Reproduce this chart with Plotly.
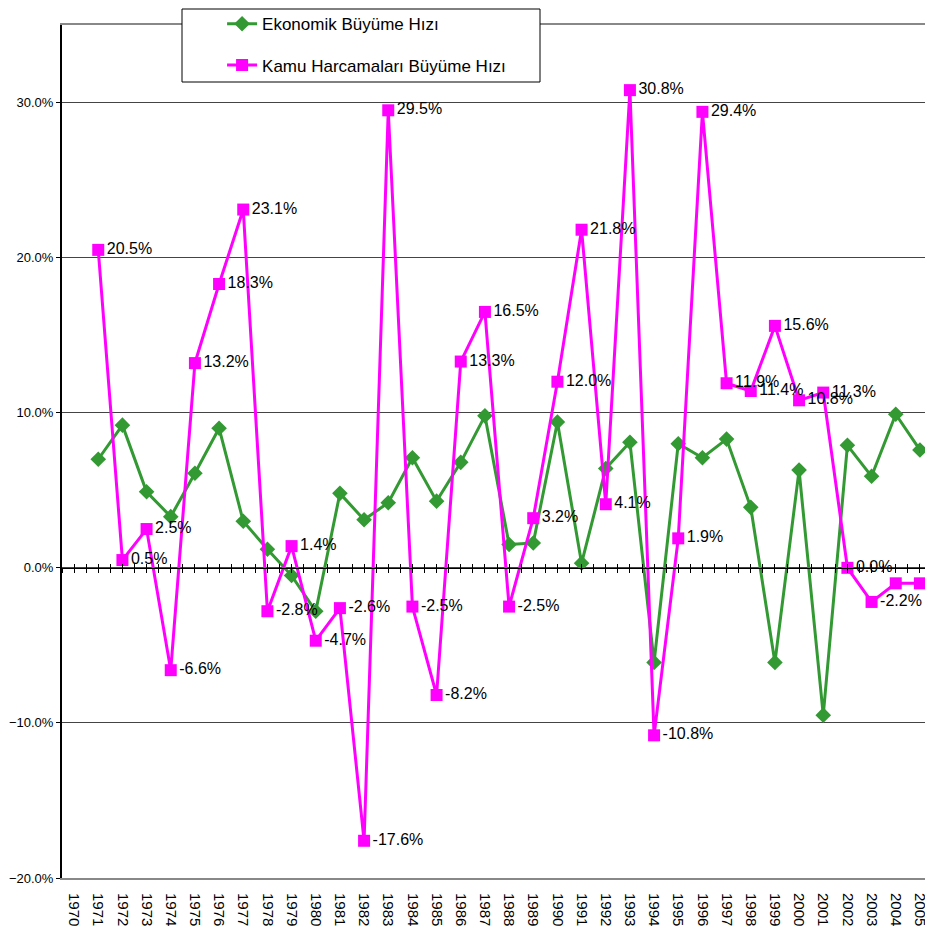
import plotly.graph_objects as go

years = [str(y) for y in range(1970, 2006)]
data_years = [str(y) for y in range(1971, 2006)]

ekonomik = [7.0, 9.2, 4.9, 3.3, 6.1, 9.0, 3.0, 1.2, -0.5, -2.8,
            4.8, 3.1, 4.2, 7.1, 4.3, 6.8, 9.8, 1.5, 1.6, 9.4,
            0.3, 6.4, 8.1, -6.1, 8.0, 7.1, 8.3, 3.9, -6.1, 6.3,
            -9.5, 7.9, 5.9, 9.9, 7.6]

kamu = [20.5, 0.5, 2.5, -6.6, 13.2, 18.3, 23.1, -2.8, 1.4, -4.7,
        -2.6, -17.6, 29.5, -2.5, -8.2, 13.3, 16.5, -2.5, 3.2, 12.0,
        21.8, 4.1, 30.8, -10.8, 1.9, 29.4, 11.9, 11.4, 15.6, 10.8,
        11.3, 0.0, -2.2, -1.0, -1.0]

series_names = ["Ekonomik Büyüme Hızı", "Kamu Harcamaları Büyüme Hızı"]

FONT = "Liberation Sans, Arial, sans-serif"

GREEN = "#339933"
MAGENTA = "#FF00FF"

kamu_frac = [v / 100 for v in kamu]
eko_frac = [v / 100 for v in ekonomik]
kamu_text = [f"{v:.1f}%" for v in kamu]
# the last two labels are pushed inside the plot edge (as in the reference)
n_edge = 2
trace_text = kamu_text[:-n_edge] + [""] * n_edge

fig = go.Figure()

fig.add_trace(go.Scatter(
    x=data_years, y=eko_frac, name=series_names[0], mode="lines+markers",
    line=dict(color=GREEN, width=3),
    marker=dict(symbol="diamond", size=12, color=GREEN),
    legendgroup="a",
))

fig.add_trace(go.Scatter(
    x=data_years, y=kamu_frac, name=series_names[1], mode="lines+markers+text",
    line=dict(color=MAGENTA, width=3),
    marker=dict(symbol="square", size=12, color=MAGENTA),
    text=trace_text, textposition="middle right",
    textfont=dict(family=FONT, size=16, color="black"),
    cliponaxis=False,
    legendgroup="b",
))

# invisible traces to instantiate the zero-line tick axes
for ax in ["x2", "x3"]:
    fig.add_trace(go.Scatter(x=[0], y=[0], xaxis=ax, yaxis="y", mode="markers",
                             marker=dict(opacity=0), showlegend=False, hoverinfo="skip"))

annotations = []
for i in range(len(kamu) - n_edge, len(kamu)):
    annotations.append(dict(
        x=data_years[-1], y=kamu_frac[i], xref="x", yref="y",
        text=kamu_text[i], showarrow=False, xanchor="right", yanchor="middle",
        xshift=12 + (i - len(kamu) + 1) * 1,
        font=dict(family=FONT, size=16, color="black"),
    ))

fig.update_layout(
    width=925, height=934,
    margin=dict(l=54, r=1, t=17, b=64, autoexpand=False),
    paper_bgcolor="white", plot_bgcolor="white",
    font=dict(family=FONT, size=14, color="black"),
    showlegend=True,
    legend=dict(
        x=0.184, y=1.022, xanchor="left", yanchor="top",
        bgcolor="rgba(0,0,0,0)", borderwidth=0,
        font=dict(family=FONT, size=17, color="black"),
        traceorder="grouped", tracegroupgap=16,
    ),
    annotations=annotations,
    xaxis=dict(
        type="category", categoryorder="array", categoryarray=years,
        tickvals=years, ticktext=years, range=[-0.5, 35.5],
        tickangle=90, tickfont=dict(family=FONT, size=15),
        showgrid=False, zeroline=False, automargin=False,
        showline=True, linecolor="#888888", linewidth=2, mirror=True,
        ticks="outside", ticklen=10, tickcolor="rgba(0,0,0,0)",
    ),
    xaxis2=dict(
        overlaying="x", anchor="free", position=0.2 / 0.55,
        range=[-0.5, 35.5], tick0=-0.5, dtick=0.5,
        ticks="outside", ticklen=4, tickcolor="black", tickwidth=1,
        showticklabels=False, showgrid=False, zeroline=False, automargin=False,
        showline=True, linecolor="black", linewidth=1,
    ),
    xaxis3=dict(
        overlaying="x", anchor="free", position=0.2 / 0.55,
        range=[-0.5, 35.5], tick0=-0.5, dtick=0.5,
        ticks="inside", ticklen=4, tickcolor="black", tickwidth=1,
        showticklabels=False, showgrid=False, zeroline=False, automargin=False,
        showline=False,
    ),
    yaxis=dict(
        range=[-0.2, 0.35], tick0=-0.2, dtick=0.1, tickformat=".1%",
        tickfont=dict(family=FONT, size=13),
        showgrid=True, gridcolor="#444444", gridwidth=1,
        zeroline=False, automargin=False,
        showline=True, linecolor="black", linewidth=2,
        ticks="outside", ticklen=4, tickcolor="black",
    ),
    shapes=[
        dict(type="line", xref="paper", yref="paper", x0=1, x1=1, y0=0, y1=1,
             line=dict(color="#AAAAAA", width=2)),
        dict(type="rect", xref="paper", yref="paper",
             x0=(182 - 62) / 870, x1=(540 - 62) / 870,
             y0=(878 - 82) / 853, y1=(878 - 9) / 853,
             fillcolor="white", line=dict(color="black", width=1), layer="above"),
    ],
)

fig.write_html("out.html")
